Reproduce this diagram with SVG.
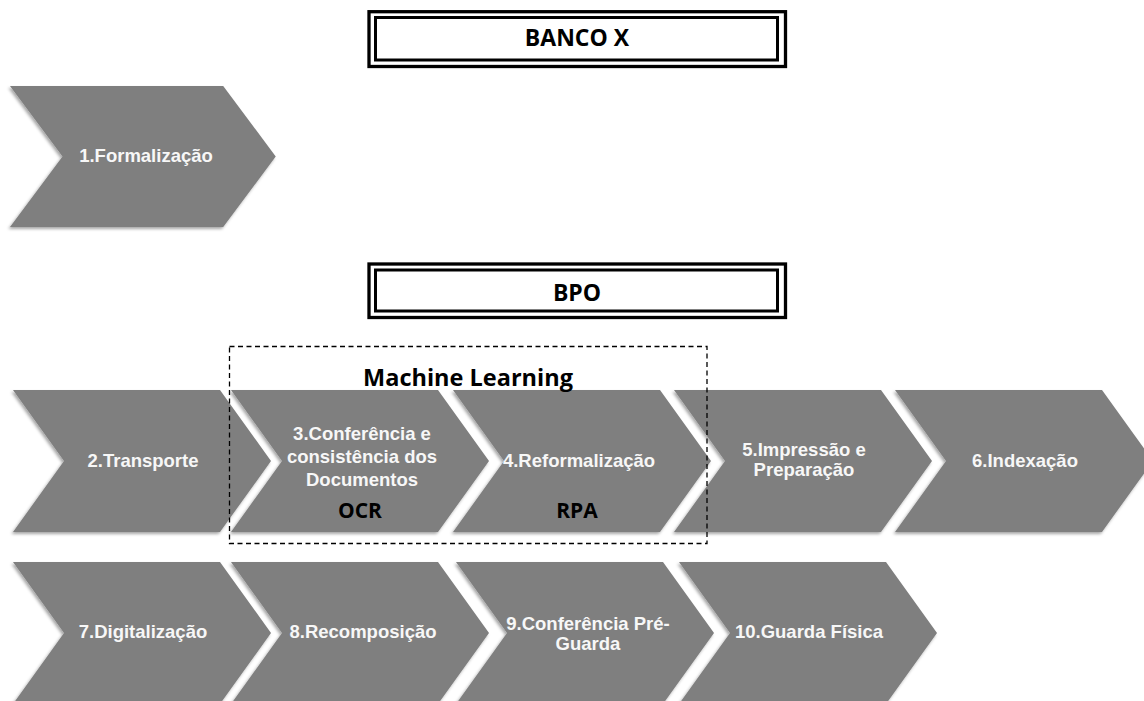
<svg xmlns="http://www.w3.org/2000/svg" xmlns:xlink="http://www.w3.org/1999/xlink" width="1144" height="701" viewBox="0 0 1144 701">
  <defs>
    <filter id="sh" x="-10%" y="-10%" width="120%" height="125%">
      <feDropShadow dx="-1.5" dy="2" stdDeviation="1.6" flood-color="#000" flood-opacity="0.35"/>
    </filter>
    <path id="chev" d="M0,0 H207 L258,71 L207,142 H0 L51,71 Z"/>
  </defs>
  <style>
    .chev { fill: #7f7f7f; filter: url(#sh); }
    .lbl { font-family: "Liberation Sans", Arial, sans-serif; font-weight: bold; font-size: 18.5px; fill: #f7f7f7; text-anchor: middle; }
    .hdr { font-family: "Open Sans", "Liberation Sans", sans-serif; font-weight: bold; fill: #000; text-anchor: middle; }
    .outer { fill: #fff; stroke: #000; stroke-width: 3.3; }
    .inner { fill: none; stroke: #000; stroke-width: 3; }
  </style>
  <rect width="1144" height="701" fill="#fff"/>

  <g id="banco-x">
    <rect class="outer" x="369" y="11.7" width="416.5" height="54.8"/>
    <rect class="inner" x="375.5" y="17.5" width="402" height="42.5"/>
    <text class="hdr" x="577" y="46" font-size="23">BANCO X</text>
  </g>

  <g id="bpo">
    <rect class="outer" x="369" y="264" width="416.5" height="53.5"/>
    <rect class="inner" x="375.5" y="270" width="402" height="41"/>
    <text class="hdr" x="577" y="301" font-size="23">BPO</text>
  </g>

  <g id="n1">
    <use xlink:href="#chev" class="chev" transform="translate(10,86) scale(1.03,0.993)"/>
    <text class="lbl" x="146" y="162">1.Formalização</text>
  </g>

  <g id="n2">
    <use xlink:href="#chev" class="chev" x="13" y="390"/>
    <text class="lbl" x="143" y="467">2.Transporte</text>
  </g>
  <g id="n3">
    <use xlink:href="#chev" class="chev" x="231" y="390"/>
    <text class="lbl" x="362" y="440">3.Conferência e</text>
    <text class="lbl" x="362" y="463">consistência dos</text>
    <text class="lbl" x="362" y="486">Documentos</text>
  </g>
  <g id="n4">
    <use xlink:href="#chev" class="chev" x="453" y="390"/>
    <text class="lbl" x="579" y="467">4.Reformalização</text>
  </g>
  <g id="n5">
    <use xlink:href="#chev" class="chev" x="674" y="390"/>
    <text class="lbl" x="804" y="456">5.Impressão e</text>
    <text class="lbl" x="804" y="476">Preparação</text>
  </g>
  <g id="n6">
    <use xlink:href="#chev" class="chev" x="895" y="390"/>
    <text class="lbl" x="1025" y="467">6.Indexação</text>
  </g>

  <g id="n7">
    <use xlink:href="#chev" class="chev" x="13" y="562"/>
    <text class="lbl" x="143" y="638">7.Digitalização</text>
  </g>
  <g id="n8">
    <use xlink:href="#chev" class="chev" x="231" y="562"/>
    <text class="lbl" x="363" y="638">8.Recomposição</text>
  </g>
  <g id="n9">
    <use xlink:href="#chev" class="chev" x="456" y="562"/>
    <text class="lbl" x="588" y="630">9.Conferência Pré-</text>
    <text class="lbl" x="588" y="650">Guarda</text>
  </g>
  <g id="n10">
    <use xlink:href="#chev" class="chev" x="679" y="562"/>
    <text class="lbl" x="809" y="638">10.Guarda Física</text>
  </g>

  <g id="machine-learning">
    <rect x="229.5" y="346.5" width="477.5" height="197" fill="none" stroke="#000" stroke-width="1.3" stroke-dasharray="5,3.5"/>
    <text class="hdr" x="468" y="386" font-size="23.5">Machine Learning</text>
    <text class="hdr" x="360" y="518" font-size="21">OCR</text>
    <text class="hdr" x="577" y="518" font-size="21">RPA</text>
  </g>

  <g id="connectors"/>
</svg>
